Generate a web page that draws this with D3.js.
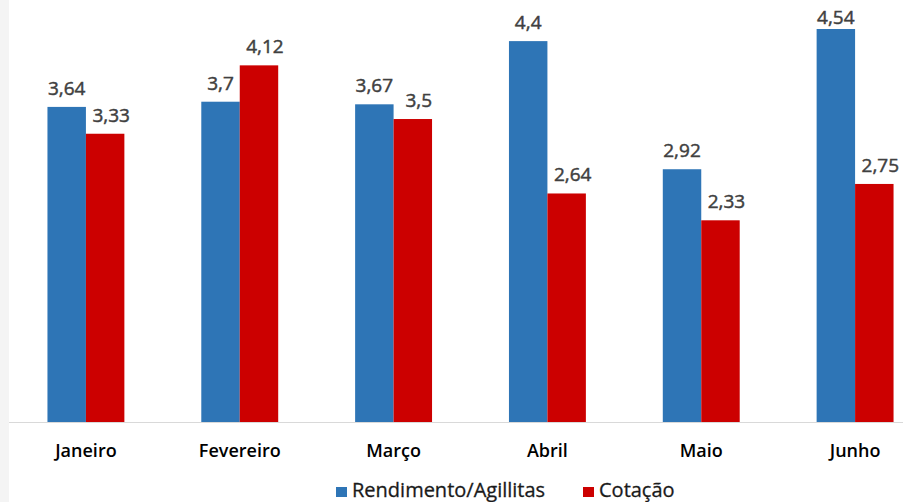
<!DOCTYPE html>
<html>
<head>
<meta charset="utf-8">
<script src="https://cdn.jsdelivr.net/npm/d3@7"></script>
<style>
  html, body { margin: 0; padding: 0; background: #ffffff; }
  svg { display: block; }
</style>
</head>
<body>
<svg id="chart" width="903" height="502"></svg>
<script>
// Monthly figures
const months = ["Janeiro", "Fevereiro", "Março", "Abril", "Maio", "Junho"];
const rendimento = [3.64, 3.7, 3.67, 4.4, 2.92, 4.54];
const cotacao = [3.33, 4.12, 3.5, 2.64, 2.33, 2.75];
const seriesNames = ["Rendimento/Agillitas", "Cotação"];
const seriesColors = ["#2e75b6", "#cc0000"];

const series = [rendimento, cotacao];
const fmt = v => String(v).replace(".", ",");

const svg = d3.select("#chart");
const W = 903, H = 502;
const FONT = "'Open Sans', sans-serif";

// faint strip on the left edge of the canvas
svg.append("rect").attr("x", 0).attr("y", 0).attr("width", 9).attr("height", H).attr("fill", "#f4f4f4");

const baseY = 422;
const x0 = d3.scaleBand().domain(months).range([9, 932]).paddingInner(0.5).paddingOuter(0.25);
const x1 = d3.scaleBand().domain(d3.range(series.length)).range([0, x0.bandwidth()]);
const y = d3.scaleLinear().domain([0, 4.54]).range([baseY, 29]);

const groups = svg.append("g").selectAll("g")
  .data(months)
  .join("g")
  .attr("transform", d => `translate(${x0(d)},0)`);

groups.selectAll("rect")
  .data((m, i) => series.map((s, k) => ({ k, v: s[i] })))
  .join("rect")
  .attr("x", d => x1(d.k))
  .attr("y", d => y(d.v))
  .attr("width", x1.bandwidth())
  .attr("height", d => y(0) - y(d.v))
  .attr("fill", d => seriesColors[d.k]);

// value labels above each bar
groups.selectAll("text.val")
  .data((m, i) => series.map((s, k) => ({ k, v: s[i] })))
  .join("text")
  .attr("class", "val")
  .attr("x", d => x1(d.k) + x1.bandwidth() / 2 + (d.k === 1 ? 6 : 0))
  .attr("y", d => Math.max(y(d.v) - 12, 24))
  .attr("text-anchor", "middle")
  .attr("font-family", FONT)
  .attr("font-size", 19)
  .attr("fill", "#404040")
  .attr("stroke", "#404040")
  .attr("stroke-width", 0.45)
  .text(d => fmt(d.v));

// category axis
svg.append("line")
  .attr("x1", 9).attr("x2", W)
  .attr("y1", baseY + 0.5).attr("y2", baseY + 0.5)
  .attr("stroke", "#d9d9d9").attr("stroke-width", 1);

const xAxis = svg.append("g")
  .attr("transform", `translate(0,${baseY})`)
  .call(d3.axisBottom(x0).tickSize(0));
xAxis.select(".domain").remove();
xAxis.selectAll("text")
  .attr("y", 35)
  .attr("dy", 0)
  .attr("font-family", FONT)
  .attr("font-size", 18)
  .attr("font-weight", 600)
  .attr("fill", "#000000");

// legend
const legend = svg.append("g").attr("transform", "translate(0,497)");
const legendX = [336, 583];
seriesNames.forEach((name, k) => {
  legend.append("rect")
    .attr("x", legendX[k]).attr("y", -10)
    .attr("width", 11).attr("height", 10)
    .attr("fill", seriesColors[k]);
  legend.append("text")
    .attr("x", legendX[k] + 16).attr("y", 0)
    .attr("font-family", FONT)
    .attr("font-size", 20)
    .attr("fill", "#1a1a1a")
    .attr("stroke", "#1a1a1a")
    .attr("stroke-width", 0.3)
    .text(name);
});
</script>
</body>
</html>
